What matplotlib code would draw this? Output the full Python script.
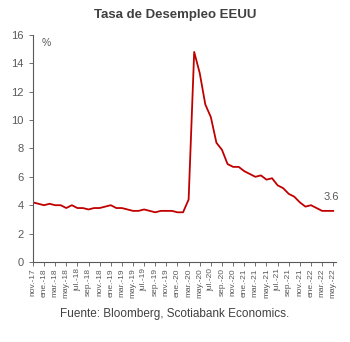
import matplotlib
matplotlib.use("Agg")
import matplotlib.pyplot as plt

plt.rcParams['font.family'] = ['Liberation Sans', 'DejaVu Sans']

months_es = ["ene.", "feb.", "mar.", "abr.", "may.", "jun.", "jul.", "ago.", "sep.", "oct.", "nov.", "dic."]
start_year, start_month = 2017, 11

rate = [4.2, 4.1,
        4.0, 4.1, 4.0, 4.0, 3.8, 4.0, 3.8, 3.8, 3.7, 3.8, 3.8, 3.9,
        4.0, 3.8, 3.8, 3.7, 3.6, 3.6, 3.7, 3.6, 3.5, 3.6, 3.6, 3.6,
        3.5, 3.5, 4.4, 14.8, 13.3, 11.1, 10.2, 8.4, 7.9, 6.9, 6.7, 6.7,
        6.4, 6.2, 6.0, 6.1, 5.8, 5.9, 5.4, 5.2, 4.8, 4.6, 4.2, 3.9,
        4.0, 3.8, 3.6, 3.6, 3.6]

labels = []
for i in range(len(rate)):
    m = (start_month - 1 + i) % 12
    y = start_year + (start_month - 1 + i) // 12
    labels.append(f"{months_es[m]}-{y % 100:02d}")

gray = "#595959"
fig = plt.figure(figsize=(3.5, 3.42), dpi=100)
ax = fig.add_axes([0.094, 0.234, 0.866, 0.664])
x = list(range(len(rate)))
ax.plot(x, rate, color="#C00000", lw=1.3)
ax.set_xlim(0, len(rate) - 0.5)
ax.set_ylim(0, 16)
ax.set_yticks(range(0, 17, 2))
ax.set_xticks(x[::2])
ax.set_xticklabels(labels[::2], rotation=90, fontsize=6, color=gray)
ax.tick_params(axis='y', labelsize=8, colors=gray, length=3, width=0.6)
ax.tick_params(axis='x', length=3, width=0.6, colors=gray, pad=1.5)
for s in ['top', 'right']:
    ax.spines[s].set_visible(False)
for s in ['left', 'bottom']:
    ax.spines[s].set_color(gray)
    ax.spines[s].set_linewidth(0.8)

ax.text(0.03, 0.985, "%", transform=ax.transAxes, fontsize=7.5, color=gray, va='top', ha='left')
ax.text(len(rate) - 1.3, rate[-1] + 0.6, f"{rate[-1]}", fontsize=8, color=gray, ha='center', va='bottom')

fig.text(0.5, 0.957, "Tasa de Desempleo EEUU", ha='center', va='center', fontsize=9.5, fontweight='bold', color="#404040")
fig.text(0.5, 0.081, "Fuente: Bloomberg, Scotiabank Economics.", ha='center', va='center', fontsize=8.5, color="#404040")

fig.savefig("out.png", dpi=100)
